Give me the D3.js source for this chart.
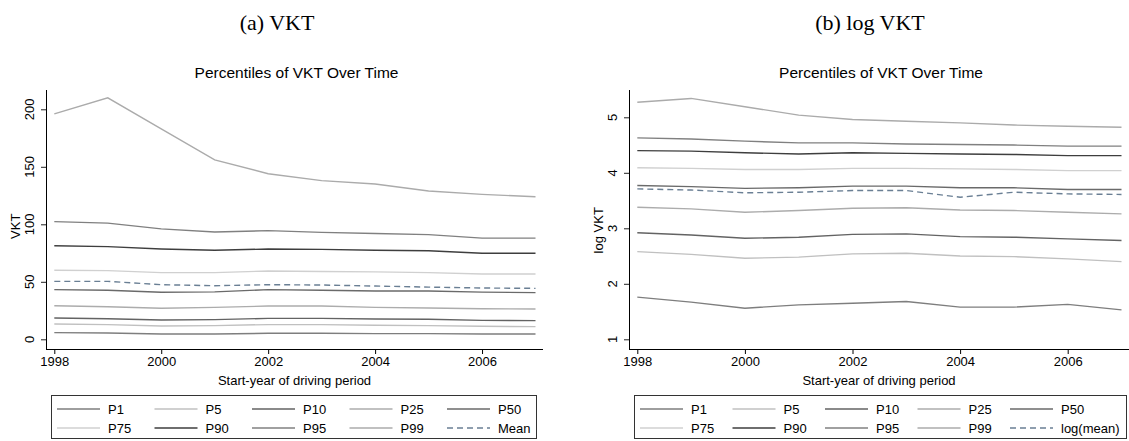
<!DOCTYPE html>
<html>
<head>
<meta charset="utf-8">
<script src="https://cdn.jsdelivr.net/npm/d3@7"></script>
<style>
  body { margin: 0; background: #fff; }
  text { font-family: "Liberation Sans", Arial, sans-serif; fill: #000; }
</style>
</head>
<body>
<div id="chart-area"></div>
<script>

// data
let years = [1998, 1999, 2000, 2001, 2002, 2003, 2004, 2005, 2006, 2007];
let seriesNames = ["P1", "P5", "P10", "P25", "P50", "P75", "P90", "P95", "P99"];

let vkt_p1  = [5.8, 5.5, 4.6, 4.6, 5.2, 5.2, 4.9, 4.9, 4.6, 4.6];
let vkt_p5  = [13.3, 12.8, 11.6, 11.9, 12.8, 12.8, 12.2, 11.9, 11.3, 11.0];
let vkt_p10 = [18.5, 17.9, 16.8, 17.1, 18.2, 18.2, 17.6, 17.4, 16.5, 16.2];
let vkt_p25 = [29.2, 28.3, 27.0, 27.8, 28.9, 28.9, 27.8, 27.2, 26.6, 26.3];
let vkt_p50 = [43.2, 42.6, 40.9, 41.2, 43.2, 42.6, 42.0, 42.0, 41.0, 40.6];
let vkt_p75 = [60.0, 59.7, 58.0, 58.0, 59.4, 59.0, 58.6, 58.0, 56.8, 56.8];
let vkt_p90 = [81.4, 80.6, 78.5, 77.4, 78.5, 78.2, 77.4, 77.0, 74.8, 74.8];
let vkt_p95 = [102.3, 101.0, 96.0, 93.3, 94.5, 93.0, 92.0, 91.0, 88.0, 88.0];
let vkt_p99 = [196, 210, 183, 156, 144, 138, 135, 129, 126, 124];
let vkt_mean = [50.4, 50.4, 47.5, 46.6, 47.5, 47.2, 46.3, 45.4, 44.6, 44.3];

let log_p1  = [1.76, 1.67, 1.56, 1.62, 1.65, 1.68, 1.58, 1.58, 1.63, 1.53];
let log_p5  = [2.58, 2.53, 2.46, 2.48, 2.54, 2.55, 2.50, 2.49, 2.45, 2.40];
let log_p10 = [2.92, 2.88, 2.82, 2.84, 2.89, 2.90, 2.85, 2.84, 2.81, 2.78];
let log_p25 = [3.38, 3.35, 3.29, 3.32, 3.36, 3.37, 3.33, 3.32, 3.29, 3.26];
let log_p50 = [3.77, 3.75, 3.72, 3.73, 3.76, 3.76, 3.73, 3.73, 3.70, 3.70];
let log_p75 = [4.09, 4.08, 4.06, 4.06, 4.08, 4.08, 4.07, 4.06, 4.04, 4.04];
let log_p90 = [4.40, 4.39, 4.36, 4.34, 4.36, 4.35, 4.34, 4.33, 4.31, 4.31];
let log_p95 = [4.63, 4.61, 4.57, 4.54, 4.54, 4.52, 4.51, 4.50, 4.48, 4.48];
let log_p99 = [5.27, 5.34, 5.19, 5.04, 4.96, 4.93, 4.90, 4.86, 4.84, 4.82];
let log_mean = [3.71, 3.69, 3.64, 3.65, 3.68, 3.68, 3.56, 3.65, 3.62, 3.61];

let xTicks = [1998, 2000, 2002, 2004, 2006];
let vktTicks = [0, 50, 100, 150, 200];
let logTicks = [1, 2, 3, 4, 5];

// line colours, in the order of seriesNames + mean
let colors = ["#7e7e7e", "#c0c0c0", "#636363", "#acacac", "#6a6a6a",
              "#d0d0d0", "#3e3e3e", "#808080", "#ababab", "#6a7f94"];


let svg = d3.select("#chart-area").append("svg")
    .attr("width", 1129)
    .attr("height", 441);

// sub-captions
svg.append("text").attr("x", 277).attr("y", 30)
    .attr("text-anchor", "middle")
    .style("font-family", "'Liberation Serif', 'DejaVu Serif', serif")
    .style("font-size", "22px")
    .text("(a) VKT");
svg.append("text").attr("x", 870).attr("y", 30)
    .attr("text-anchor", "middle")
    .style("font-family", "'Liberation Serif', 'DejaVu Serif', serif")
    .style("font-size", "22px")
    .text("(b) log VKT");

function drawPanel(left, right, yDomain, yRange, ticks, yTitle, series, meanLabel, legendRight, colW) {
	let g = svg.append("g");

	let x = d3.scaleLinear().domain([1998, 2007]).range([left + 8.3, right - 7.5]);
	let y = d3.scaleLinear().domain(yDomain).range(yRange);

	// title
	g.append("text")
		.attr("x", (left + right) / 2 + 2)
		.attr("y", 78)
		.attr("text-anchor", "middle")
		.style("font-size", "15.5px")
		.text("Percentiles of VKT Over Time");

	// y axis (labels drawn rotated by hand)
	let yAxis = d3.axisLeft(y).tickValues(ticks).tickSize(5).tickFormat("");
	let ya = g.append("g")
		.attr("transform", "translate(" + left + ",0)")
		.call(yAxis);
	ya.select(".domain").attr("d", "M0.5,90V349");
	ya.selectAll(".tick line").attr("stroke", "#222");

	let labs = g.selectAll(".ylab")
		.data(ticks)
		.enter().append("g")
		.attr("class", "ylab")
		.attr("transform", d => "translate(" + (left - 12) + "," + y(d) + ")");
	labs.append("text")
		.attr("transform", "rotate(-90)")
		.attr("text-anchor", "middle")
		.style("font-size", "13px")
		.text(d => d3.format("d")(d));

	g.append("text")
		.attr("transform", "translate(" + (left - 26) + "," + ((yRange[0] + yRange[1]) / 2 + 2) + ") rotate(-90)")
		.attr("text-anchor", "middle")
		.style("font-size", "13px")
		.text(yTitle);

	// x axis
	let xAxis = d3.axisBottom(x).tickValues(xTicks).tickFormat(d3.format("d")).tickSize(5).tickPadding(3);
	let xa = g.append("g")
		.attr("transform", "translate(0,349)")
		.call(xAxis);
	xa.select(".domain").attr("d", "M" + left + ",0.5H" + right);
	xa.selectAll("text").style("font-size", "13px")
		.style("font-family", "'Liberation Sans', Arial, sans-serif");

	g.append("text")
		.attr("x", (left + right) / 2)
		.attr("y", 385)
		.attr("text-anchor", "middle")
		.style("font-size", "13px")
		.text("Start-year of driving period");

	// lines
	let line = d3.line()
		.x((d, i) => x(years[i]))
		.y(d => y(d));

	series.forEach((s, i) => {
		g.append("path")
			.datum(s)
			.attr("d", line)
			.attr("fill", "none")
			.attr("stroke", colors[i])
			.attr("stroke-width", 1.4)
			.attr("stroke-dasharray", i == 9 ? "6,4" : null);
	});

	// legend
	let names = seriesNames.concat([meanLabel]);
	g.append("rect")
		.attr("x", left + 5.5)
		.attr("y", 395.5)
		.attr("width", legendRight - left - 5)
		.attr("height", 43)
		.attr("fill", "none")
		.attr("stroke", "#333")
		.attr("stroke-width", 1);

	names.forEach((n, i) => {
		let col = i % 5, row = Math.floor(i / 5);
		let lx = left + 11 + col * colW;
		let ly = 409 + row * 19;
		g.append("line")
			.attr("x1", lx).attr("x2", lx + 43)
			.attr("y1", ly).attr("y2", ly)
			.attr("stroke", colors[i])
			.attr("stroke-width", 1.4)
			.attr("stroke-dasharray", i == 9 ? "6,4" : null);
		g.append("text")
			.attr("x", lx + 51)
			.attr("y", ly + 5)
			.style("font-size", "13px")
			.text(n);
	});
}

drawPanel(46, 543, [0, 200], [339.3, 109.3], vktTicks, "VKT",
	[vkt_p1, vkt_p5, vkt_p10, vkt_p25, vkt_p50, vkt_p75, vkt_p90, vkt_p95, vkt_p99, vkt_mean],
	"Mean", 536, 97.5);

drawPanel(629, 1129, [1, 5], [339.3, 117.3], logTicks, "log VKT",
	[log_p1, log_p5, log_p10, log_p25, log_p50, log_p75, log_p90, log_p95, log_p99, log_mean],
	"log(mean)", 1126, 92.5);

</script>
</body>
</html>
